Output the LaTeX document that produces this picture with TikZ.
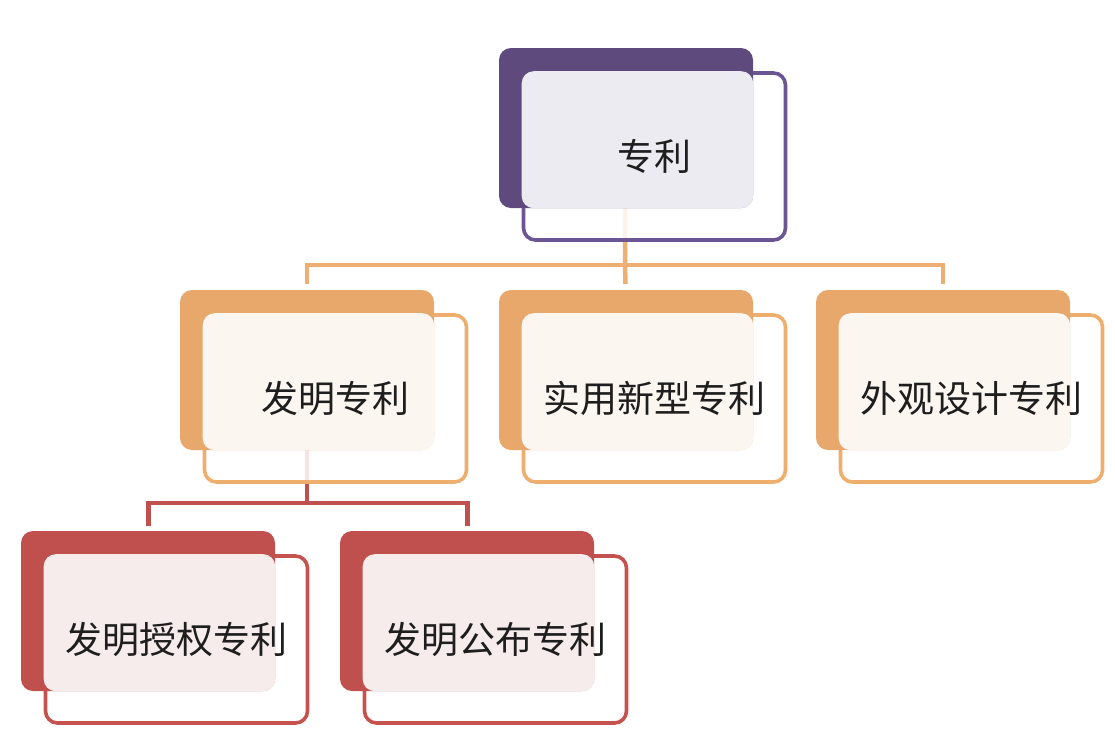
\documentclass[tikz,border=0pt]{standalone}
\usepackage{fontspec}
\newfontfamily\cjk{Noto Sans CJK SC}
\definecolor{pdark}{HTML}{5E4A7C}
\definecolor{pline}{HTML}{6B5693}
\definecolor{plight}{HTML}{EDEBF2}
\definecolor{odark}{HTML}{E8A86C}
\definecolor{oline}{HTML}{EEAE6E}
\definecolor{olight}{HTML}{FBF6F0}
\definecolor{rdark}{HTML}{C0504D}
\definecolor{rline}{HTML}{C4524F}
\definecolor{rlight}{HTML}{F6ECEC}
\definecolor{oconn}{HTML}{EFAE72}
\definecolor{txt}{HTML}{1E1E1E}
\tikzset{
  backbox/.style={rectangle, rounded corners=12pt, minimum width=254pt, minimum height=160pt, inner sep=0pt, fill=#1},
  frontbox/.style={rectangle, rounded corners=12pt, minimum width=262pt, minimum height=167pt, inner sep=0pt, draw=#1, line width=3.6pt, fill=white, fill opacity=0.85},
  label/.style={font=\cjk\fontsize{37}{42}\selectfont, text=txt, inner sep=0pt},
  conn/.style={line width=4.5pt, draw=#1},
}
% #1 name, #2 x, #3 y (top-left of back box), #4 dark, #5 line, #6 light, #7 text
\newcommand\patentbox[7]{%
  \node[frontbox=#5] (#1f) at (#2+155.5,#3+108.5) {};
  \node[backbox=#4] (#1b) at (#2+127,#3+80) {};
  \fill[#6, rounded corners=12pt] (#1f.north west) rectangle (#1b.south east);
  \node[label] (#1t) at (#1f.center) {#7};
}
\begin{document}
\begin{tikzpicture}[x=1pt,y=-1pt]
\useasboundingbox (0,0) rectangle (1115,748);
% connector junctions
\coordinate (j1) at (625,265);
\coordinate (j2) at (307,503);
% connectors (drawn first, behind boxes)
\draw[conn=oconn] (625.5,128) -- (j1);
\draw[conn=oconn] (j1) -| (307,284);
\draw[conn=oconn] (j1) -| (943,284);
\draw[conn=oconn] (j1) -- (625.5,284);
\draw[conn=rdark] (307,370) -- (j2);
\draw[conn=rdark] (j2) -| (148.5,526);
\draw[conn=rdark] (j2) -| (467.5,526);
% boxes
\patentbox{a}{499}{48}{pdark}{pline}{plight}{专利}
\patentbox{b}{180}{290}{odark}{oline}{olight}{发明专利}
\patentbox{c}{499}{290}{odark}{oline}{olight}{实用新型专利}
\patentbox{d}{816}{290}{odark}{oline}{olight}{外观设计专利}
\patentbox{e}{21}{531}{rdark}{rline}{rlight}{发明授权专利}
\patentbox{f}{340}{531}{rdark}{rline}{rlight}{发明公布专利}
\end{tikzpicture}
\end{document}
